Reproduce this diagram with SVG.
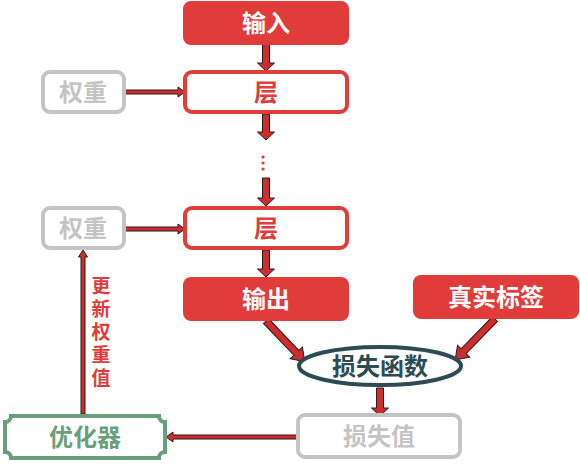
<svg xmlns="http://www.w3.org/2000/svg" width="580" height="467" viewBox="0 0 580 467">
<style>
.t{font-family:"Noto Sans CJK SC","Noto Sans",sans-serif;font-weight:bold;font-size:24px;text-anchor:middle}
.red{fill:#E03C3A}
.redbox{fill:#fff;stroke:#E03C3A;stroke-width:4}
.graybox{fill:#fff;stroke:#C4C4C4;stroke-width:4}
.arr{fill:#CC2E2E;stroke:#2a1a1a;stroke-width:1}
.w{fill:#fff}
.g{fill:#C4C4C4}
</style>
<rect width="580" height="467" fill="#fff"/>
<g id="connectors">
<polygon class="arr" points="262.5,44 269.5,44 269.5,63 274.5,63 266,71 257.5,63 262.5,63"/>
<polygon class="arr" points="262.5,114 269.5,114 269.5,132 274.5,132 266,140 257.5,132 262.5,132"/>
<polygon class="arr" points="262.5,178 269.5,178 269.5,198 274.5,198 266,206 257.5,198 262.5,198"/>
<polygon class="arr" points="262.5,250 269.5,250 269.5,269 274.5,269 266,277 257.5,269 262.5,269"/>
<polygon class="arr" points="125,90 178,90 178,87 185,92 178,97 178,94 125,94"/>
<polygon class="arr" points="125,227 178,227 178,224 185,229 178,234 178,231 125,231"/>
<polygon class="arr" points="376.5,388 383.5,388 383.5,408 388.5,408 380,416 371.5,408 376.5,408"/>
<polygon class="arr" points="297,435 173,435 173,432 166,437 173,442 173,439 297,439"/>
<polygon class="arr" points="81,414 81,257 78.5,257 83,250 87.5,257 85,257 85,414"/>
<g transform="translate(266,321) rotate(46.4)"><polygon class="arr" points="0,-3.5 44,-3.5 44,-8.5 56,0 44,8.5 44,3.5 0,3.5"/></g>
<g transform="translate(495,319) rotate(134.3)"><polygon class="arr" points="0,-3.5 45,-3.5 45,-8.5 57,0 45,8.5 45,3.5 0,3.5"/></g>
<g class="red"><circle cx="263" cy="157" r="1.6"/><circle cx="263" cy="163" r="1.6"/><circle cx="263" cy="169" r="1.6"/></g>
<text x="101" y="276" class="t red" writing-mode="vertical-rl" style="font-size:19px;text-anchor:start;letter-spacing:4px">更新权重值</text>
</g>
<g id="input"><rect x="183" y="1" width="166" height="44" rx="8" class="red"/><text x="266" y="32" class="t w">输入</text></g>
<g id="layer1"><rect x="185" y="72" width="162" height="40" rx="7" class="redbox"/><text x="266" y="101" class="t red">层</text></g>
<g id="weight1"><rect x="43" y="72" width="81" height="40" rx="7" class="graybox"/><text x="83" y="101" class="t g">权重</text></g>
<g id="layer2"><rect x="185" y="208" width="162" height="40" rx="7" class="redbox"/><text x="266" y="237" class="t red">层</text></g>
<g id="weight2"><rect x="43" y="208" width="81" height="40" rx="7" class="graybox"/><text x="83" y="237" class="t g">权重</text></g>
<g id="output"><rect x="183" y="277" width="166" height="44" rx="8" class="red"/><text x="266" y="308" class="t w">输出</text></g>
<g id="label"><rect x="413" y="275" width="166" height="44" rx="8" class="red"/><text x="496" y="306" class="t w">真实标签</text></g>
<g id="lossfn"><ellipse cx="380" cy="366" rx="81" ry="19" fill="#fff" stroke="#2D4B52" stroke-width="4"/><text x="380" y="375" class="t" fill="#2D4B52">损失函数</text></g>
<g id="lossval"><rect x="298" y="415" width="162" height="42" rx="7" class="graybox"/><text x="379" y="445" class="t g">损失值</text></g>
<g id="optimizer"><path d="M11,416 H159 A6,6 0 0 0 165,422 V452 A6,6 0 0 0 159,458 H11 A6,6 0 0 0 5,452 V422 A6,6 0 0 0 11,416 Z" fill="#fff" stroke="#6A9F7C" stroke-width="4"/><text x="85" y="446" class="t" fill="#6A9F7C">优化器</text></g>
</svg>
